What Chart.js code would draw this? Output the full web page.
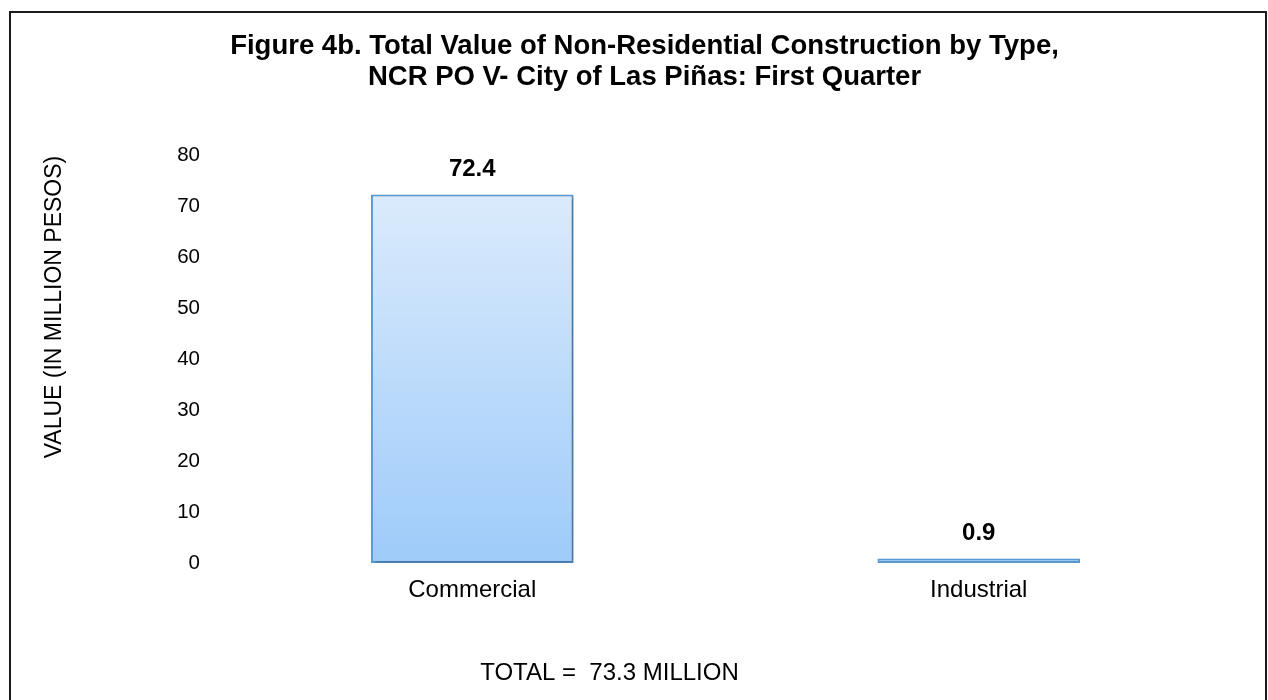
<!DOCTYPE html>
<html>
<head>
<meta charset="utf-8">
<title>Figure 4b</title>
<script src="https://cdn.jsdelivr.net/npm/chart.js@4.4.0/dist/chart.umd.min.js"></script>
<style>
    html, body { margin: 0; padding: 0; background: #fff; overflow: hidden; }
    #wrap { position: relative; width: 1268px; height: 700px; }
    #frame {
        position: absolute; left: 9px; top: 11px; width: 1258px; height: 720px;
        border: 2px solid #1a1a1a; box-sizing: border-box;
    }
    #bar-chart { position: absolute; left: 0; top: 0; }
</style>
</head>
<body>
<div id="wrap">
    <div id="frame"></div>
    <canvas id="bar-chart" width="1268" height="700"></canvas>
</div>
<script>
// 数据
const categories = ['Commercial', 'Industrial'];
const values = [72.4, 0.9];
const yTickValues = [0, 10, 20, 30, 40, 50, 60, 70, 80];
const titleLines = [
    'Figure 4b. Total Value of Non-Residential Construction by Type,',
    'NCR PO V- City of Las Piñas: First Quarter'
];
const yAxisTitle = 'VALUE (IN MILLION PESOS)';
const totalLabel = 'TOTAL =  73.3 MILLION';

const FONT = "'Liberation Sans', Arial, Helvetica, sans-serif";

// 柱子阴影
const barShadow = {
    id: 'barShadow',
    beforeDatasetDraw(chart) {
        const ctx = chart.ctx;
        ctx.save();
        ctx.shadowColor = 'rgba(0, 0, 0, 0.28)';
        ctx.shadowBlur = 4;
        ctx.shadowOffsetX = 2;
        ctx.shadowOffsetY = 2;
    },
    afterDatasetDraw(chart) {
        chart.ctx.restore();
    }
};

// 标题和底部合计文字的水平位置微调 (原图中两者不在同一中心线上)
const textShift = {
    id: 'textShift',
    afterLayout(chart) {
        const move = (box, dx) => {
            if (box) {
                box.left += dx;
                box.right += dx;
            }
        };
        move(chart.titleBlock, 24);
        const sub = chart.boxes.find(b => b !== chart.titleBlock && b.options && b.options.text === totalLabel);
        move(sub, -11);
    }
};

// 柱顶数值
const valueLabels = {
    id: 'valueLabels',
    afterDatasetsDraw(chart) {
        const ctx = chart.ctx;
        const meta = chart.getDatasetMeta(0);
        ctx.save();
        ctx.font = 'bold 24px ' + FONT;
        ctx.fillStyle = '#000';
        ctx.textAlign = 'center';
        ctx.textBaseline = 'middle';
        meta.data.forEach((bar, i) => {
            ctx.fillText(values[i].toFixed(1), bar.x, bar.y - 25);
        });
        ctx.restore();
    }
};

const canvas = document.getElementById('bar-chart');

window.barChart = new Chart(canvas, {
    type: 'bar',
    data: {
        labels: categories,
        datasets: [{
            data: values,
            backgroundColor: function (context) {
                const { ctx, chartArea } = context.chart;
                if (!chartArea) {
                    return '#b9dafb';
                }
                const g = ctx.createLinearGradient(0, chartArea.top, 0, chartArea.bottom);
                g.addColorStop(0, '#e1eefc');
                g.addColorStop(1, '#9ecbfa');
                return g;
            },
            borderColor: '#5b9bd5',
            borderWidth: 2,
            borderSkipped: false,
            barPercentage: 0.4,
            categoryPercentage: 1.0
        }]
    },
    options: {
        responsive: false,
        animation: false,
        layout: {
            padding: { top: 12, left: 9, right: 36, bottom: 0 }
        },
        plugins: {
            legend: { display: false },
            tooltip: { enabled: false },
            title: {
                display: true,
                text: titleLines,
                color: '#000',
                font: { family: FONT, size: 27.5, weight: 'bold', lineHeight: 1.16 },
                padding: { top: 18, bottom: 62 }
            },
            subtitle: {
                display: true,
                position: 'bottom',
                text: totalLabel,
                color: '#000',
                font: { family: FONT, size: 24, weight: 'normal', lineHeight: 1.2 },
                padding: { top: 41, bottom: 12.4 }
            }
        },
        scales: {
            x: {
                grid: { display: false, drawTicks: false },
                border: { display: false },
                ticks: {
                    color: '#000',
                    padding: 13,
                    font: { family: FONT, size: 24 }
                }
            },
            y: {
                min: yTickValues[0],
                max: yTickValues[yTickValues.length - 1],
                grid: { display: false, drawTicks: false },
                border: { display: false },
                ticks: {
                    stepSize: yTickValues[1] - yTickValues[0],
                    color: '#000',
                    padding: 19,
                    font: { family: FONT, size: 20.5 }
                },
                title: {
                    display: true,
                    text: yAxisTitle,
                    align: 'end',
                    color: '#000',
                    font: { family: FONT, size: 23, lineHeight: 1.2 },
                    padding: { top: 32, bottom: 0 }
                },
                afterFit: function (scale) {
                    scale.width = 210;
                }
            }
        }
    },
    plugins: [barShadow, textShift, valueLabels]
});
</script>
</body>
</html>
